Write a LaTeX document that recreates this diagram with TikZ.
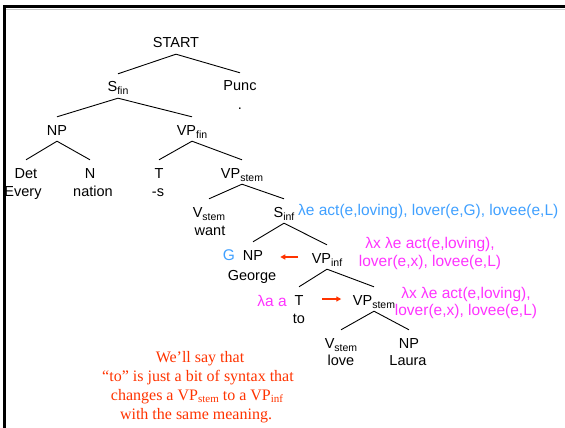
\documentclass[tikz,border=0pt]{standalone}
\usepackage{fontspec}
\setmainfont{Liberation Sans}
\newfontfamily\remarkfont{Liberation Serif}
\usetikzlibrary{arrows.meta}
\definecolor{semblue}{RGB}{64,160,255}
\definecolor{sempink}{RGB}{255,51,255}
\definecolor{notered}{RGB}{255,51,0}
% lowered subscripts for category labels and for the remark
\newcommand\lowsub[1]{\raisebox{-3pt}{\fontsize{10.5}{12}\selectfont #1}}
\newcommand\remsub[1]{\raisebox{-2.5pt}{\fontsize{11}{12}\selectfont #1}}
\begin{document}
\begin{tikzpicture}[x=1pt,y=-1pt,
  every node/.style={inner sep=0pt, font=\fontsize{14.5}{17}\selectfont},
  cat/.style={anchor=base, text height=18pt, text depth=6pt},
  word/.style={anchor=base},
  sem/.style={anchor=base, font=\fontsize{15.5}{18}\selectfont},
  branch/.style={line width=0.9pt},
  moveArrow/.style={draw=notered, line width=1.4pt, -{Triangle[length=5pt,width=5pt]}},
  remark/.style={anchor=base, text=notered, font=\remarkfont\fontsize{16}{19}\selectfont}]
\useasboundingbox (0,0) rectangle (565,428);
% slide frame
\draw[gray!45, line width=0.8pt] (6,9.2) -- (565,9.2);
\draw[line width=2.5pt] (4.5,428) -- (4.5,6.3) -- (565,6.3);

% tree nodes
\node[cat] (start) at (176,48) {START};
\node[cat] (sfin) at (118,92) {S\lowsub{fin}};
\node[cat] (punc) at (240,91) {Punc};
\node[word] (dot) at (240,110) {.};
\node[cat] (np1) at (57,135) {NP};
\node[cat] (vpfin) at (192,135) {VP\lowsub{fin}};
\node[cat] (det) at (26,178) {Det};
\node[word] (every) at (23,196) {Every};
\node[cat] (n) at (90,178) {N};
\node[word] (nation) at (93,196) {nation};
\node[cat] (t1) at (159,178) {T};
\node[word] (suffix) at (158,196) {-s};
\node[cat] (vpstem1) at (242,178) {VP\lowsub{stem}};
\node[cat] (vstem1) at (209,217) {V\lowsub{stem}};
\node[word] (want) at (210,235) {want};
\node[cat] (sinf) at (284,217) {S\lowsub{inf}};
\node[cat] (np2) at (253,260) {NP};
\node[word] (george) at (252,280) {George};
\node[cat] (vpinf) at (327,263) {VP\lowsub{inf}};
\node[cat] (t2) at (299,305) {T};
\node[word] (to) at (299,323) {to};
\node[cat] (vpstem2) at (374,305) {VP\lowsub{stem}};
\node[cat] (vstem2) at (341,348) {V\lowsub{stem}};
\node[word] (love) at (341,365) {love};
\node[cat] (np3) at (409,348) {NP};
\node[word] (laura) at (408,365) {Laura};

% semantic annotations
\node[sem, anchor=base west, text=semblue] (semS) at (298,215) {λe act(e,loving), lover(e,G), lovee(e,L)};
\node[sem, text=semblue] (semG) at (229,260) {G};
\node[sem, text=sempink] (semVPa) at (430,248) {λx λe act(e,loving),};
\node[sem, text=sempink] (semVPb) at (430,266) {lover(e,x), lovee(e,L)};
\node[sem, text=sempink] (semT) at (272,306) {λa a};
\node[sem, text=sempink] (semVsa) at (466,298) {λx λe act(e,loving),};
\node[sem, text=sempink] (semVsb) at (466,315) {lover(e,x), lovee(e,L)};

% branches
\foreach \p/\c in {start/sfin, start/punc, sfin/np1, sfin/vpfin, np1/det, np1/n,
    vpfin/t1, vpfin/vpstem1, vpstem1/vstem1, vpstem1/sinf, sinf/np2, sinf/vpinf,
    vpinf/t2, vpinf/vpstem2, vpstem2/vstem2, vpstem2/np3}
  \draw[branch] (\p.south) -- (\c.north);

% meaning flow arrows
\draw[moveArrow, shorten <=13.5pt, shorten >=17pt] (vpinf.west) -- (vpinf.west -| np2.east);
\draw[moveArrow, shorten <=18.5pt, shorten >=11.5pt] (t2.east) -- (t2.east -| vpstem2.west);

% remark
\node[remark] (r1) at (200,362) {We’ll say that};
\node[remark] (r2) at (198,381) {“to” is just a bit of syntax that};
\node[remark] (r3) at (197,400) {changes a VP\remsub{stem} to a VP\remsub{inf}};
\node[remark] (r4) at (196,419) {with the same meaning.};
\end{tikzpicture}
\end{document}
